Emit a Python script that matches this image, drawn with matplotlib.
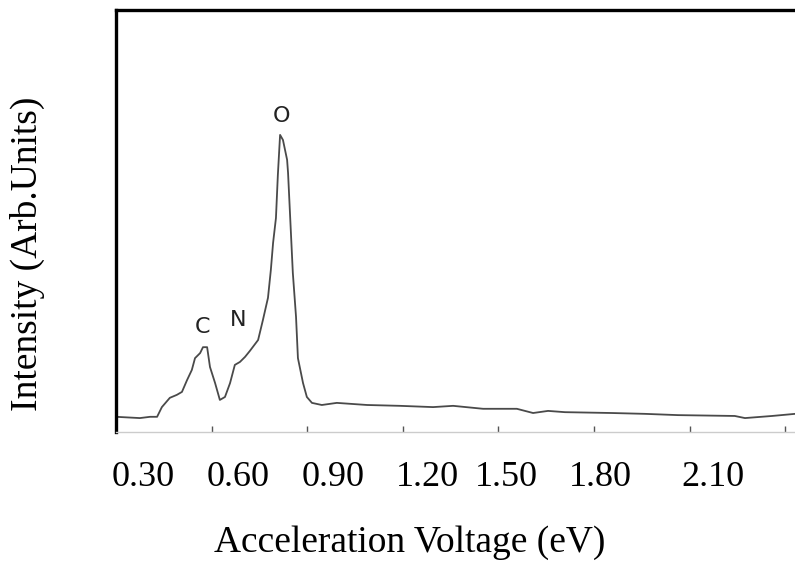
import matplotlib
matplotlib.use("Agg")
import matplotlib.pyplot as plt
from matplotlib.ticker import FixedLocator

# spectrum (arbitrary intensity units)
energy = [0.300, 0.375, 0.407, 0.429, 0.444, 0.469, 0.491, 0.507, 0.523, 0.538,
          0.548, 0.564, 0.573, 0.586, 0.595, 0.611, 0.626, 0.642, 0.658, 0.673,
          0.689, 0.705, 0.720, 0.746, 0.761, 0.777, 0.786, 0.793, 0.802, 0.808,
          0.815, 0.824, 0.837, 0.840, 0.846, 0.855, 0.865, 0.871, 0.887, 0.899,
          0.915, 0.946, 0.993, 1.088, 1.191, 1.295, 1.358, 1.452, 1.558, 1.609,
          1.656, 1.709, 1.856, 1.960, 2.064, 2.242, 2.274, 2.359, 2.431]
intensity = [3.6, 3.3, 3.6, 3.6, 5.9, 8.1, 8.8, 9.5, 12.3, 14.7,
             17.5, 18.7, 20.1, 20.1, 15.4, 11.6, 7.6, 8.3, 11.6, 15.9,
             16.6, 17.8, 19.2, 21.8, 26.5, 31.8, 38.4, 44.8, 50.7, 60.9,
             70.4, 69.2, 64.5, 61.4, 51.9, 37.7, 27.3, 17.5, 11.6, 8.3,
             6.9, 6.4, 6.9, 6.4, 6.2, 5.9, 6.2, 5.5, 5.5, 4.5,
             5.0, 4.7, 4.5, 4.3, 4.0, 3.8, 3.3, 3.8, 4.3]

peak_names = ["C", "N", "O"]
peak_x = [0.573, 0.683, 0.818]
peak_y = [24.9, 26.5, 74.9]

tick_marks = [0.30, 0.60, 0.90, 1.20, 1.50, 1.80, 2.10, 2.40]
label_pos = [0.386, 0.684, 0.983, 1.279, 1.524, 1.819, 2.173]
tick_labels = ["0.30", "0.60", "0.90", "1.20", "1.50", "1.80", "2.10"]

serif = ["Liberation Serif", "DejaVu Serif"]

fig = plt.figure(figsize=(7.95, 5.70), dpi=100)
ax = fig.add_axes([0.1459, 0.2421, 0.8541, 0.7404])

ax.plot(energy, intensity, color="#4a4a4a", lw=1.3)

for name, x, y in zip(peak_names, peak_x, peak_y):
    ax.text(x, y, name, ha="center", va="center", fontsize=16, color="#222222",
            family=["DejaVu Sans"])

ax.set_xlim(0.30, 2.431)
ax.set_ylim(0, 100)

ax.spines["right"].set_visible(False)
ax.spines["left"].set_linewidth(2.4)
ax.spines["top"].set_linewidth(2.4)
ax.spines["bottom"].set_color("#cccccc")
ax.spines["bottom"].set_linewidth(1.0)

ax.set_yticks([])
ax.xaxis.set_major_locator(FixedLocator(label_pos))
ax.set_xticklabels(tick_labels)
ax.xaxis.set_minor_locator(FixedLocator(tick_marks))
ax.tick_params(axis="x", which="major", length=0, pad=21, labelsize=26)
ax.tick_params(axis="x", which="minor", direction="in", length=4.5,
               width=1.0, color="#555555")
for lab in ax.get_xticklabels():
    lab.set_family(serif)

ax.set_xlabel("Acceleration Voltage (eV)", fontsize=27, family=serif)
ax.xaxis.set_label_coords(0.433, -0.222)
ax.set_ylabel("Intensity (Arb.Units)", fontsize=27, family=serif)
ax.yaxis.set_label_coords(-0.105, 0.422)

fig.savefig("out.png", dpi=100)
